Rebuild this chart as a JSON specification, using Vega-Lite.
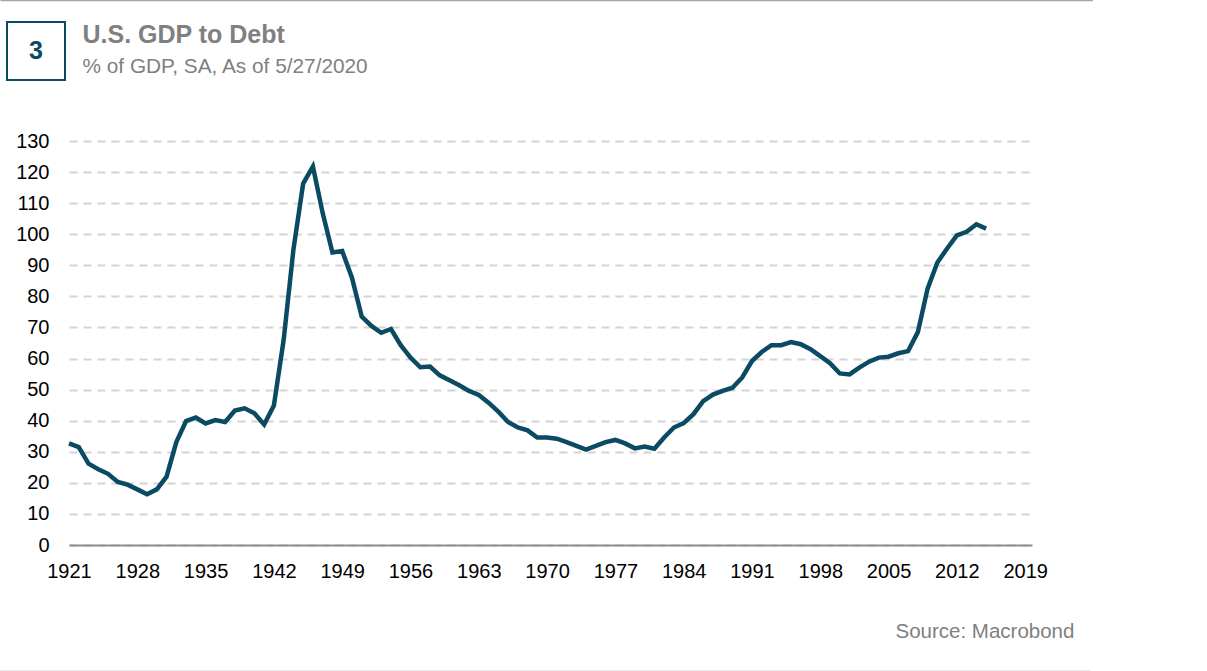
{
  "$schema": "https://vega.github.io/schema/vega-lite/v6.json",
  "background": "white",
  "padding": 0,
  "spacing": 0,
  "config": {
    "view": {"stroke": null},
    "font": "Liberation Sans",
    "text": {"font": "Liberation Sans"},
    "axis": {"labelFont": "Liberation Sans"}
  },
  "vconcat": [
    {
      "width": 1093,
      "height": 21,
      "data": {"values": []},
      "mark": {"type": "text"},
      "encoding": {
        "x": {"field": "v", "type": "quantitative", "scale": {"domain": [0, 1]},
          "axis": {"orient": "top", "title": null, "labels": false, "ticks": false, "grid": false, "domainColor": "#a6a6a6", "domainWidth": 1.5}}
      }
    },
    {
      "spacing": 16,
      "hconcat": [
        {
          "spacing": 0,
          "hconcat": [
            {"width": 6, "height": 109, "data": {"values": []}, "mark": {"type": "text"}},
            {
              "width": 58,
              "height": 58,
              "view": {"stroke": "#0b4a63", "strokeWidth": 2},
              "data": {"values": [{"n": "3"}]},
              "mark": {"type": "text", "fontSize": 25, "fontWeight": "bold", "color": "#0b4a63", "align": "center", "baseline": "middle"},
              "encoding": {"text": {"field": "n", "type": "nominal"}}
            }
          ]
        },
        {
          "width": 1,
          "height": 72,
          "data": {"values": [
            {"line": "title", "label": "U.S. GDP to Debt"},
            {"line": "subtitle", "label": "% of GDP, SA, As of 5/27/2020"}
          ]},
          "encoding": {
            "y": {"field": "line", "type": "nominal", "sort": ["title", "subtitle"], "scale": {"type": "point", "padding": 0.71}, "axis": null},
            "text": {"field": "label", "type": "nominal"}
          },
          "layer": [
            {
              "transform": [{"filter": "datum.line === 'title'"}],
              "mark": {"type": "text", "fontSize": 25, "fontWeight": "bold", "color": "#808080", "align": "left", "baseline": "alphabetic"}
            },
            {
              "transform": [{"filter": "datum.line === 'subtitle'"}],
              "mark": {"type": "text", "fontSize": 20.8, "color": "#808080", "align": "left", "baseline": "alphabetic"}
            }
          ]
        }
      ]
    },
    {
      "spacing": 0,
      "hconcat": [
        {"width": 15, "height": 480, "data": {"values": []}, "mark": {"type": "text"}},
        {
          "width": 963,
          "height": 404,
          "data": {"values": [
            {"year": 1921, "debt": 32.7}, {"year": 1922, "debt": 31.5}, {"year": 1923, "debt": 26.2}, {"year": 1924, "debt": 24.4},
            {"year": 1925, "debt": 22.9}, {"year": 1926, "debt": 20.3}, {"year": 1927, "debt": 19.4}, {"year": 1928, "debt": 17.9},
            {"year": 1929, "debt": 16.3}, {"year": 1930, "debt": 17.9}, {"year": 1931, "debt": 22.0}, {"year": 1932, "debt": 33.1},
            {"year": 1933, "debt": 39.9}, {"year": 1934, "debt": 41.0}, {"year": 1935, "debt": 39.1}, {"year": 1936, "debt": 40.2},
            {"year": 1937, "debt": 39.6}, {"year": 1938, "debt": 43.3}, {"year": 1939, "debt": 44.0}, {"year": 1940, "debt": 42.4},
            {"year": 1941, "debt": 38.8}, {"year": 1942, "debt": 44.9}, {"year": 1943, "debt": 66.0}, {"year": 1944, "debt": 95.0},
            {"year": 1945, "debt": 116.3}, {"year": 1946, "debt": 121.8}, {"year": 1947, "debt": 106.8}, {"year": 1948, "debt": 94.1},
            {"year": 1949, "debt": 94.6}, {"year": 1950, "debt": 86.0}, {"year": 1951, "debt": 73.5}, {"year": 1952, "debt": 70.5},
            {"year": 1953, "debt": 68.3}, {"year": 1954, "debt": 69.5}, {"year": 1955, "debt": 64.3}, {"year": 1956, "debt": 60.3},
            {"year": 1957, "debt": 57.2}, {"year": 1958, "debt": 57.4}, {"year": 1959, "debt": 54.6}, {"year": 1960, "debt": 53.0},
            {"year": 1961, "debt": 51.4}, {"year": 1962, "debt": 49.6}, {"year": 1963, "debt": 48.3}, {"year": 1964, "debt": 45.8},
            {"year": 1965, "debt": 42.9}, {"year": 1966, "debt": 39.6}, {"year": 1967, "debt": 37.8}, {"year": 1968, "debt": 36.9},
            {"year": 1969, "debt": 34.6}, {"year": 1970, "debt": 34.6}, {"year": 1971, "debt": 34.2}, {"year": 1972, "debt": 33.1},
            {"year": 1973, "debt": 31.9}, {"year": 1974, "debt": 30.7}, {"year": 1975, "debt": 31.9}, {"year": 1976, "debt": 33.1},
            {"year": 1977, "debt": 33.8}, {"year": 1978, "debt": 32.7}, {"year": 1979, "debt": 31.1}, {"year": 1980, "debt": 31.7},
            {"year": 1981, "debt": 31.0}, {"year": 1982, "debt": 34.6}, {"year": 1983, "debt": 37.8}, {"year": 1984, "debt": 39.2},
            {"year": 1985, "debt": 42.1}, {"year": 1986, "debt": 46.3}, {"year": 1987, "debt": 48.4}, {"year": 1988, "debt": 49.6},
            {"year": 1989, "debt": 50.6}, {"year": 1990, "debt": 53.9}, {"year": 1991, "debt": 59.2}, {"year": 1992, "debt": 62.1},
            {"year": 1993, "debt": 64.3}, {"year": 1994, "debt": 64.3}, {"year": 1995, "debt": 65.3}, {"year": 1996, "debt": 64.6},
            {"year": 1997, "debt": 63.0}, {"year": 1998, "debt": 60.8}, {"year": 1999, "debt": 58.5}, {"year": 2000, "debt": 55.2},
            {"year": 2001, "debt": 54.9}, {"year": 2002, "debt": 57.1}, {"year": 2003, "debt": 59.0}, {"year": 2004, "debt": 60.3},
            {"year": 2005, "debt": 60.6}, {"year": 2006, "debt": 61.7}, {"year": 2007, "debt": 62.4}, {"year": 2008, "debt": 68.5},
            {"year": 2009, "debt": 82.5}, {"year": 2010, "debt": 90.9}, {"year": 2011, "debt": 95.4}, {"year": 2012, "debt": 99.6},
            {"year": 2013, "debt": 100.8}, {"year": 2014, "debt": 103.2}, {"year": 2015, "debt": 101.8}
          ]},
          "mark": {"type": "line", "color": "#0b4a63", "strokeWidth": 4.5},
          "encoding": {
            "x": {
              "field": "year", "type": "quantitative",
              "scale": {"domain": [1921, 2019.7], "nice": false, "zero": false},
              "axis": {
                "values": [1921, 1928, 1935, 1942, 1949, 1956, 1963, 1970, 1977, 1984, 1991, 1998, 2005, 2012, 2019],
                "format": "d", "title": null, "grid": false, "ticks": false, "tickSize": 0,
                "domainColor": "#8c8c8c", "domainWidth": 2,
                "labelFontSize": 20, "labelColor": "#000000", "labelPadding": 32, "labelBaseline": "alphabetic",
                "labelFlush": false, "labelOverlap": false
              }
            },
            "y": {
              "field": "debt", "type": "quantitative",
              "scale": {"domain": [0, 130], "nice": false},
              "axis": {
                "values": [0, 10, 20, 30, 40, 50, 60, 70, 80, 90, 100, 110, 120, 130],
                "title": null, "domain": false, "ticks": false, "tickSize": 0,
                "grid": true, "gridColor": "#d3d3d3", "gridWidth": 2, "gridDash": [8, 6],
                "labelFontSize": 20, "labelColor": "#000000", "labelPadding": 20
              }
            }
          }
        }
      ]
    },
    {
      "spacing": 0,
      "hconcat": [
        {"width": 895, "height": 33, "data": {"values": []}, "mark": {"type": "text"}},
        {
          "width": 1,
          "height": 1,
          "data": {"values": [{"src": "Source: Macrobond"}]},
          "mark": {"type": "text", "fontSize": 20.5, "color": "#808080", "align": "left", "baseline": "alphabetic"},
          "encoding": {"text": {"field": "src", "type": "nominal"}}
        }
      ]
    },
    {
      "width": 1090,
      "height": 1,
      "data": {"values": []},
      "mark": {"type": "text"},
      "encoding": {
        "x": {"field": "v", "type": "quantitative", "scale": {"domain": [0, 1]},
          "axis": {"orient": "bottom", "title": null, "labels": false, "ticks": false, "grid": false, "domainColor": "#a6a6a6", "domainWidth": 1.5}}
      }
    }
  ]
}
